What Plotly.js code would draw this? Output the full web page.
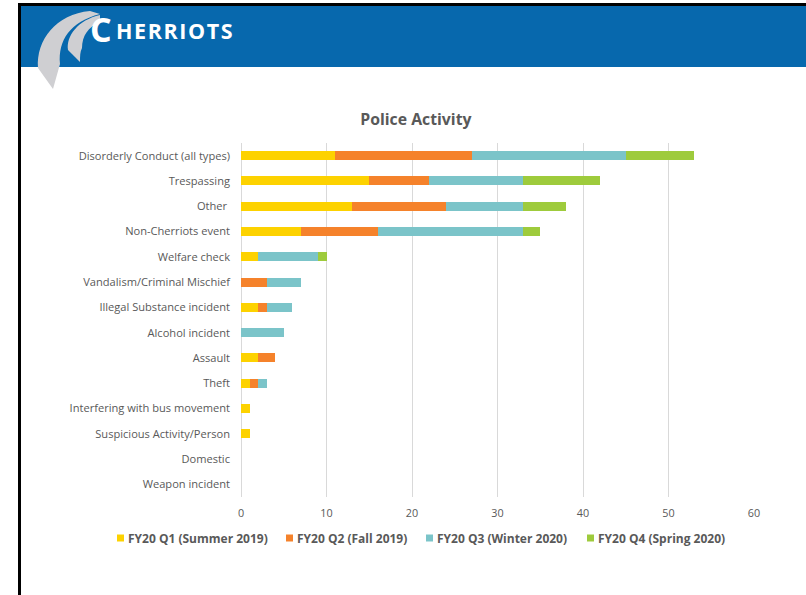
<!DOCTYPE html>
<html>
<head>
<meta charset="utf-8">
<script src="https://cdn.plot.ly/plotly-3.0.1.min.js"></script>
<style>
  html, body { margin: 0; padding: 0; background: #fff; }
  #wrap { position: relative; width: 806px; height: 595px; overflow: hidden; }
  #chart { position: absolute; left: 0; top: 0; width: 806px; height: 595px; }
  #header { position: absolute; left: 0; top: 0; pointer-events: none; }
</style>
</head>
<body>
<div id="wrap">
  <div id="chart"></div>
  <svg id="header" width="806" height="595" xmlns="http://www.w3.org/2000/svg">
    <rect x="18" y="3" width="788" height="3" fill="#000"/>
    <rect x="18" y="3" width="3" height="592" fill="#000"/>
    <rect x="21" y="6" width="785" height="61" fill="#0768ad"/>
    <!-- swoosh -->
    <path d="M 90 11 C 56 14, 36 40, 38 68 L 53 89 L 60 64 C 58 40, 70 22, 100 14 Z" fill="#cfcfd2"/>
    <path d="M 100 15 C 78 20, 66 36, 68 50 L 80 62 C 80 56, 80 52, 82 48 C 82 36, 88 27, 100 22 Z" fill="#cfcfd2"/>
    <text x="90" y="42" fill="#fff" font-family="Open Sans, DejaVu Sans, sans-serif" font-weight="700" font-size="34">C</text>
    <text x="116" y="38.5" fill="#fff" font-family="Open Sans, DejaVu Sans, sans-serif" font-weight="700" font-size="21.5" letter-spacing="1.6">HERRIOTS</text>
  </svg>
</div>
<script>
const categories = [
  "Disorderly Conduct (all types)",
  "Trespassing",
  "Other ",
  "Non-Cherriots event",
  "Welfare check",
  "Vandalism/Criminal Mischief",
  "Illegal Substance incident",
  "Alcohol incident",
  "Assault",
  "Theft",
  "Interfering with bus movement",
  "Suspicious Activity/Person",
  "Domestic",
  "Weapon incident"
];
const seriesNames = [
  "FY20 Q1 (Summer 2019)",
  "FY20 Q2 (Fall 2019)",
  "FY20 Q3 (Winter 2020)",
  "FY20 Q4 (Spring 2020)"
];
const q1Summer2019 = [11, 15, 13, 7, 2, 0, 2, 0, 2, 1, 1, 1, 0, 0];
const q2Fall2019   = [16, 7, 11, 9, 0, 3, 1, 0, 2, 1, 0, 0, 0, 0];
const q3Winter2020 = [18, 11, 9, 17, 7, 4, 3, 5, 0, 1, 0, 0, 0, 0];
const q4Spring2020 = [8, 9, 5, 2, 1, 0, 0, 0, 0, 0, 0, 0, 0, 0];
const xTicks = [0, 10, 20, 30, 40, 50, 60];

const colors = ["#fdd200", "#f5822b", "#7bc4c9", "#9ecb3c"];
const allSeries = [q1Summer2019, q2Fall2019, q3Winter2020, q4Spring2020];

const traces = allSeries.map((vals, i) => ({
  type: "bar",
  orientation: "h",
  name: seriesNames[i],
  y: categories,
  x: vals,
  marker: { color: colors[i], line: { width: 0 } },
  hoverinfo: "x+y+name"
}));

// plot-area geometry (pixels) used to place the custom legend
const M = { l: 241, r: 52, t: 143, b: 98 };
const plotW = 806 - M.l - M.r, plotH = 595 - M.t - M.b;
const px2x = p => (p - M.l) / plotW;
const px2y = p => (595 - M.b - p) / plotH;
const legendSquareX = [117, 286, 426, 587];
const legendY = 538;

const shapes = [], annotations = [];
seriesNames.forEach((nm, i) => {
  shapes.push({
    type: "rect", xref: "paper", yref: "paper",
    x0: px2x(legendSquareX[i]), x1: px2x(legendSquareX[i] + 7),
    y0: px2y(legendY + 3.5), y1: px2y(legendY - 3.5),
    fillcolor: colors[i], line: { width: 0 }
  });
  annotations.push({
    xref: "paper", yref: "paper",
    x: px2x(legendSquareX[i] + 9), y: px2y(legendY),
    xanchor: "left", yanchor: "middle", showarrow: false,
    text: "<b>" + nm + "</b>",
    font: { family: "Open Sans, sans-serif", size: 12, color: "#595959" }
  });
});

const layout = {
  width: 806,
  height: 595,
  margin: M,
  paper_bgcolor: "#ffffff",
  plot_bgcolor: "#ffffff",
  barmode: "stack",
  bargap: 0.64,
  font: { family: "Open Sans, sans-serif", color: "#595959" },
  title: {
    text: "<b>Police Activity</b>",
    font: { family: "Open Sans, sans-serif", size: 15.8, color: "#595959" },
    x: 0.516, xref: "container", xanchor: "center",
    y: 1 - 119 / 595, yref: "container", yanchor: "middle"
  },
  xaxis: {
    range: [0, 60],
    tickvals: xTicks,
    ticktext: xTicks.map(String),
    showgrid: true,
    gridcolor: "#d9d9d9",
    gridwidth: 1,
    zeroline: true,
    zerolinecolor: "#d9d9d9",
    zerolinewidth: 1,
    showline: false,
    ticks: "",
    ticklabelstandoff: 8,
    tickfont: { size: 10.8, color: "#595959" },
    fixedrange: true
  },
  yaxis: {
    categoryorder: "array",
    categoryarray: categories,
    autorange: "reversed",
    showgrid: false,
    zeroline: false,
    showline: false,
    ticks: "",
    ticklabelstandoff: 10,
    tickfont: { size: 11.1, color: "#595959" },
    fixedrange: true
  },
  showlegend: false,
  shapes: shapes,
  annotations: annotations
};

Plotly.newPlot("chart", traces, layout, { displayModeBar: false, staticPlot: true });
</script>
</body>
</html>
